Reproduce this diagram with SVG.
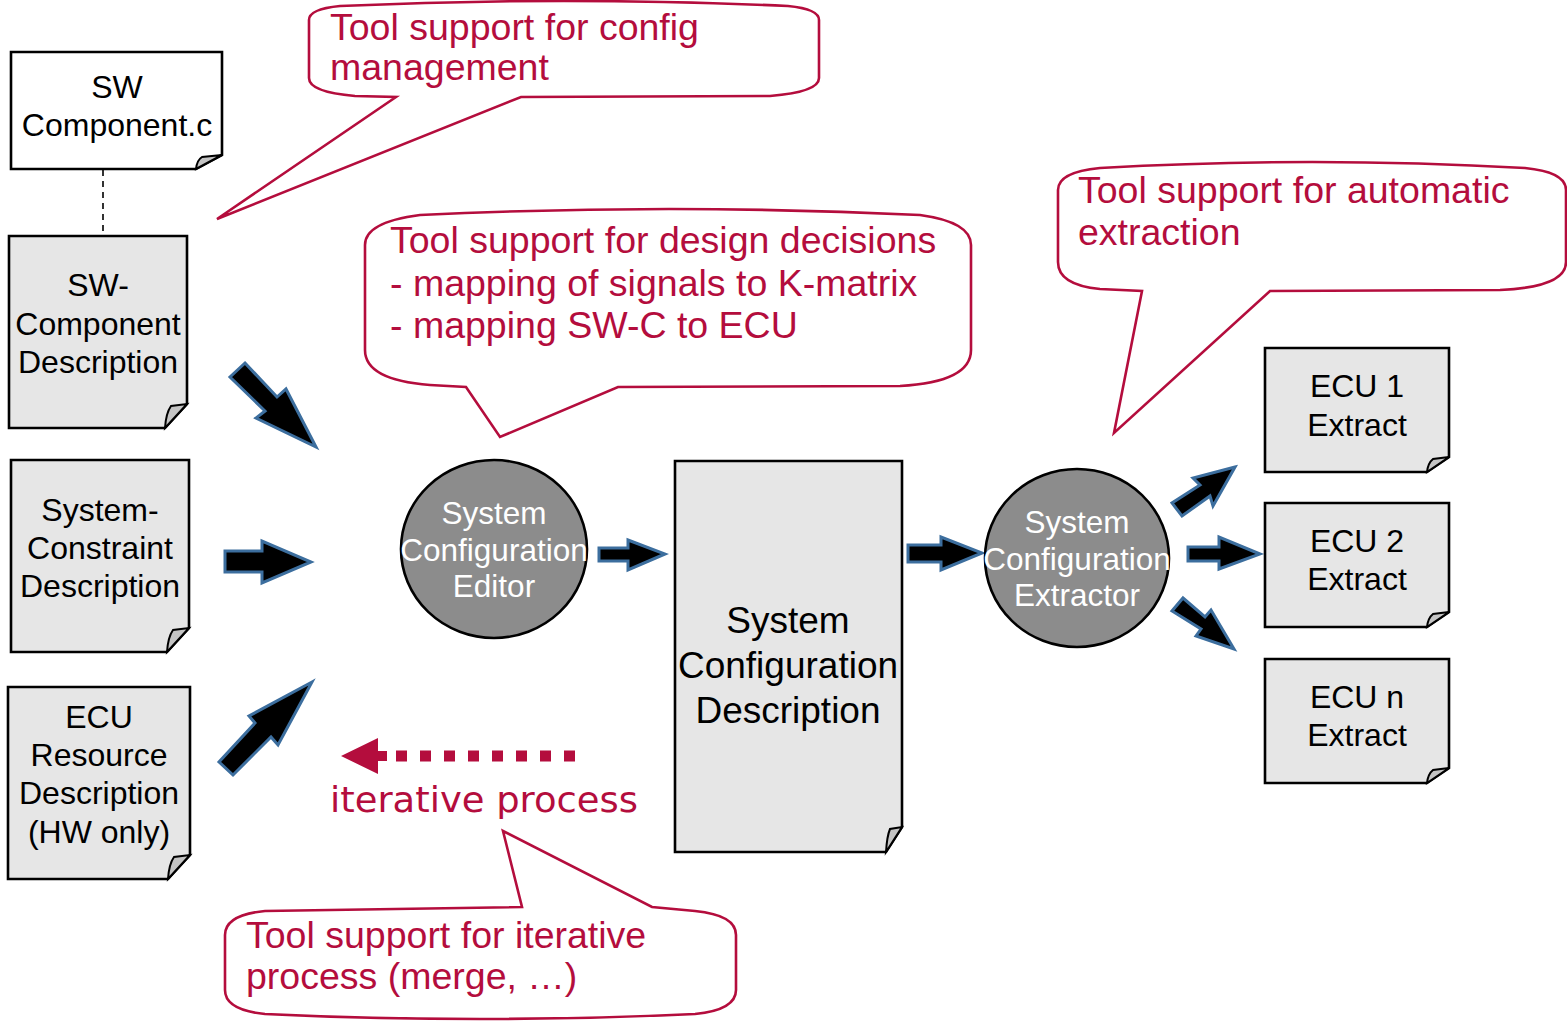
<svg xmlns="http://www.w3.org/2000/svg" width="1567" height="1022" viewBox="0 0 1567 1022">
<style>
.doc{fill:#E6E6E6;stroke:#000;stroke-width:2.6;stroke-linejoin:miter}
.curl{fill:#C4C4C4;stroke:#000;stroke-width:2}
.dt{font-family:"Liberation Sans",Arial,sans-serif;font-size:32px;fill:#000;text-anchor:middle}
.proc{fill:#8C8C8C;stroke:#000;stroke-width:2.6}
.pt{font-family:"Liberation Sans",Arial,sans-serif;font-size:31.5px;fill:#fff;text-anchor:middle}
.call{fill:#fff;stroke:#B40D3D;stroke-width:2.6;stroke-linejoin:miter}
.ct{font-family:"Liberation Sans",Arial,sans-serif;font-size:37.5px;fill:#B40D3D}
.blk{fill:#000;stroke:#3C6E9E;stroke-width:3;stroke-linejoin:miter}
</style>
<rect width="1567" height="1022" fill="#fff"/>

<g id="connectors">
  <line x1="103" y1="170" x2="103" y2="236" stroke="#000" stroke-width="1.6" stroke-dasharray="6 5"/>
  <polygon class="blk" points="245,363 277,397 286,389 316,447 256,418 265,411 230,377"/>
  <polygon class="blk" points="225,551 262,551 262,541 311,562 262,583 262,572 225,572"/>
  <polygon class="blk" points="312,682 249,716 255,723 219,762 233,775 271,737 278,745"/>
  <polygon class="blk" points="599,548 628,548 628,540 665,554 628,570 628,561 599,561"/>
  <polygon class="blk" points="908,545 941,545 941,537 982,553 941,570 941,562 908,562"/>
  <polygon class="blk" points="1235,467 1193,478 1200,485 1172,503 1182,516 1210,496 1213,506"/>
  <polygon class="blk" points="1188,547 1219,547 1219,537 1260,554 1219,569 1219,561 1188,561"/>
  <polygon class="blk" points="1183,598 1205,617 1211,610 1234,649 1196,636 1201,629 1172,611"/>
  <g id="iterative-arrow">
    <line x1="396" y1="756" x2="576" y2="756" stroke="#B40D3D" stroke-width="11" stroke-dasharray="11 13"/>
    <polygon points="341,756 378,738 378,751 387,751 387,761 378,761 378,774" fill="#B40D3D"/>
    <text x="330" y="812" font-family="DejaVu Sans,Verdana,sans-serif" font-size="35" fill="#B40D3D" textLength="308" lengthAdjust="spacingAndGlyphs">iterative process</text>
  </g>
</g>

<g id="sw-component-c">
  <path d="M11,52 H222 V155 L196,169 H11 Z" class="doc" style="fill:#fff"/>
  <path d="M196,169 Q197,160 202,157 L222,155 Z" class="curl"/>
  <text class="dt" x="117" y="98">SW</text>
  <text class="dt" x="117" y="136">Component.c</text>
</g>

<g id="sw-component-description">
  <path d="M9,236 H187 V404 L165,428 H9 Z" class="doc"/>
  <path d="M165,428 Q166,413 171,406 L187,404 Z" class="curl"/>
  <text class="dt" x="98" y="296">SW-</text>
  <text class="dt" x="98" y="335">Component</text>
  <text class="dt" x="98" y="373">Description</text>
</g>

<g id="system-constraint-description">
  <path d="M11,460 H189 V628 L167,652 H11 Z" class="doc"/>
  <path d="M167,652 Q168,637 173,630 L189,628 Z" class="curl"/>
  <text class="dt" x="100" y="521">System-</text>
  <text class="dt" x="100" y="559">Constraint</text>
  <text class="dt" x="100" y="597">Description</text>
</g>

<g id="ecu-resource-description">
  <path d="M8,687 H190 V855 L168,879 H8 Z" class="doc"/>
  <path d="M168,879 Q169,864 174,857 L190,855 Z" class="curl"/>
  <text class="dt" x="99" y="728">ECU</text>
  <text class="dt" x="99" y="766">Resource</text>
  <text class="dt" x="99" y="804">Description</text>
  <text class="dt" x="99" y="843">(HW only)</text>
</g>

<g id="system-configuration-editor">
  <ellipse class="proc" cx="494" cy="549" rx="93" ry="89"/>
  <text class="pt" x="494" y="524">System</text>
  <text class="pt" x="494" y="561">Configuration</text>
  <text class="pt" x="494" y="597">Editor</text>
</g>

<g id="system-configuration-description">
  <path d="M675,461 H902 V827 L886,852 H675 Z" class="doc"/>
  <path d="M886,852 Q887,836 890,829 L902,827 Z" class="curl"/>
  <text class="dt" x="788" y="633" style="font-size:37px">System</text>
  <text class="dt" x="788" y="678" style="font-size:37px">Configuration</text>
  <text class="dt" x="788" y="723" style="font-size:37px">Description</text>
</g>

<g id="system-configuration-extractor">
  <ellipse class="proc" cx="1077" cy="558" rx="92" ry="89"/>
  <text class="pt" x="1077" y="533">System</text>
  <text class="pt" x="1077" y="570">Configuration</text>
  <text class="pt" x="1077" y="606">Extractor</text>
</g>

<g id="ecu1-extract">
  <path d="M1265,348 H1449 V457 L1427,472 H1265 Z" class="doc"/>
  <path d="M1427,472 Q1428,463 1433,459 L1449,457 Z" class="curl"/>
  <text class="dt" x="1357" y="397">ECU 1</text>
  <text class="dt" x="1357" y="436">Extract</text>
</g>

<g id="ecu2-extract">
  <path d="M1265,503 H1449 V612 L1427,627 H1265 Z" class="doc"/>
  <path d="M1427,627 Q1428,618 1433,614 L1449,612 Z" class="curl"/>
  <text class="dt" x="1357" y="552">ECU 2</text>
  <text class="dt" x="1357" y="590">Extract</text>
</g>

<g id="ecun-extract">
  <path d="M1265,659 H1449 V768 L1427,783 H1265 Z" class="doc"/>
  <path d="M1427,783 Q1428,774 1433,770 L1449,768 Z" class="curl"/>
  <text class="dt" x="1357" y="708">ECU n</text>
  <text class="dt" x="1357" y="746">Extract</text>
</g>

<g id="callout-config">
  <path class="call" d="M309,20 Q309,9 340,6 Q564,-4 788,6 Q819,9 819,20 V78 Q819,92 770,96 L521,97 L217,219 L396,97 L355,96 Q309,92 309,78 Z"/>
  <text class="ct" x="330" y="40">Tool support for config</text>
  <text class="ct" x="330" y="80">management</text>
</g>

<g id="callout-design">
  <path class="call" d="M365,245 Q365,222 420,215 Q668,203 920,215 Q971,222 971,245 V350 Q971,382 900,386 L618,387 L500,437 L466,387 L430,385 Q365,380 365,350 Z"/>
  <text class="ct" x="390" y="253">Tool support for design decisions</text>
  <text class="ct" x="390" y="296">- mapping of signals to K-matrix</text>
  <text class="ct" x="390" y="338">- mapping SW-C to ECU</text>
</g>

<g id="callout-extraction">
  <path class="call" d="M1058,190 Q1058,172 1100,168 Q1312,156 1525,168 Q1566,172 1566,190 V262 Q1566,287 1500,290 L1270,291 L1114,433 L1142,291 L1100,289 Q1058,285 1058,262 Z"/>
  <text class="ct" x="1078" y="203">Tool support for automatic</text>
  <text class="ct" x="1078" y="245">extraction</text>
</g>

<g id="callout-iterative">
  <path class="call" d="M225,935 Q225,915 265,911 L522,907 L503,831 L652,907 L695,911 Q736,915 736,935 V990 Q736,1010 695,1014 Q480,1024 265,1014 Q225,1010 225,990 Z"/>
  <text class="ct" x="246" y="948">Tool support for iterative</text>
  <text class="ct" x="246" y="989">process (merge, …)</text>
</g>
</svg>
